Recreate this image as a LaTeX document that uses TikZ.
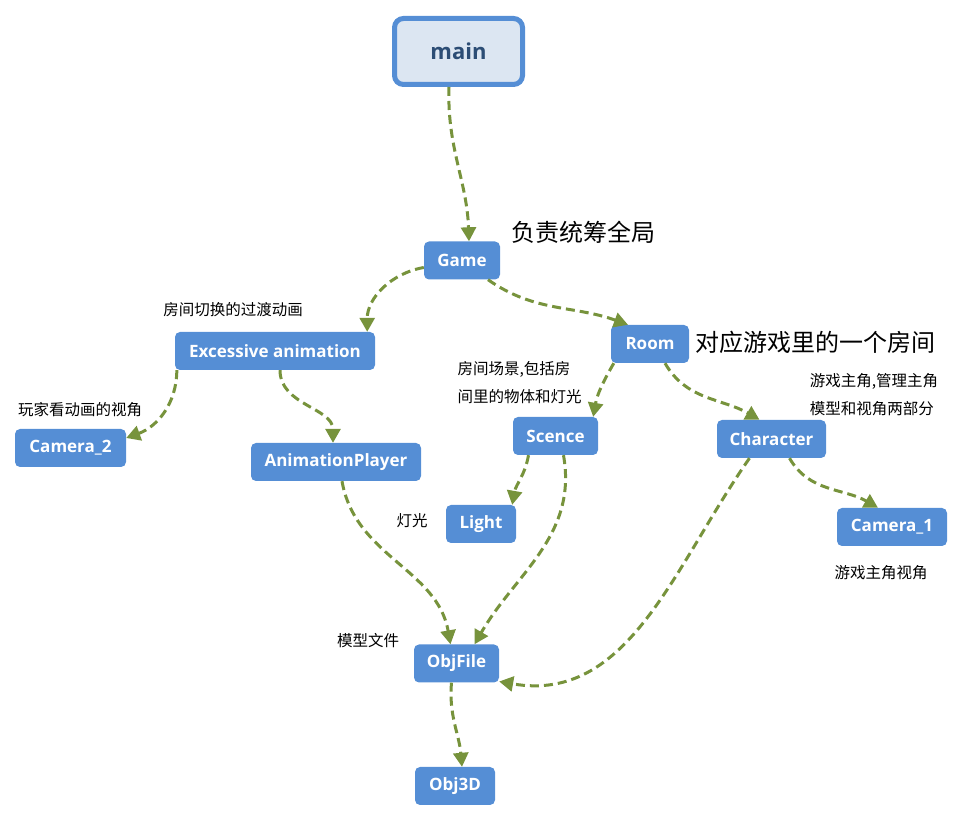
\documentclass[tikz,border=0pt]{standalone}
\usepackage{fontspec}
\setmainfont{Open Sans}
\newfontfamily\cjk{Noto Sans CJK SC}
\usetikzlibrary{arrows.meta}
\definecolor{boxblue}{HTML}{558ED5}
\definecolor{mainfill}{HTML}{DCE6F2}
\definecolor{maintext}{HTML}{2C4D75}
\definecolor{linkgreen}{HTML}{77933C}
\tikzset{
  box/.style={fill=boxblue, rounded corners=5pt, text=white,
    font=\fontsize{17}{20}\selectfont\bfseries, minimum height=38pt, inner sep=0pt},
  mainbox/.style={draw=boxblue, line width=5pt, fill=mainfill, rounded corners=9pt,
    text=maintext, font=\fontsize{22}{26}\selectfont\bfseries,
    minimum width=128pt, minimum height=66pt},
  note/.style={font=\cjk\fontsize{15.5}{28}\selectfont, inner sep=0pt, align=left},
  bignote/.style={font=\cjk\fontsize{24}{28}\selectfont, inner sep=0pt},
  link/.style={draw=linkgreen, line width=3pt, dash pattern=on 9pt off 5pt,
    -{Triangle[length=14pt,width=15pt]}},
}
\begin{document}
\begin{tikzpicture}[x=1pt, y=1pt]
  \useasboundingbox (0,0) rectangle (964,822);
  \node[mainbox] (main) at (458.5,770.5) {main};
  \foreach \nm/\x/\y/\w/\txt in {game/462/561.5/76/Game,
      excessive/275/471/200/Excessive animation, room/650/478/78/Room,
      cam2/70.5/374/111/Camera\_2, player/336/360/170/AnimationPlayer,
      scence/555.5/386/85/Scence, character/771.5/383/109/Character,
      light/481/298/70/Light, cam1/892/295/110/Camera\_1,
      objfile/456.5/158.5/85/ObjFile, obj3d/455/36/80/Obj3D} {
    \node[box, minimum width=\w pt] (\nm) at (\x,\y) {\txt};
  }
  % notes
  \node[bignote] (l-game) at (583,590) {负责统筹全局};
  \node[bignote] (l-room) at (815,480) {对应游戏里的一个房间};
  \node[note] (l-excessive) at (233,512) {房间切换的过渡动画};
  \node[note] (l-cam2) at (80,412) {玩家看动画的视角};
  \node[note] (l-scence) at (519.5,439) {房间场景,包括房\\间里的物体和灯光};
  \node[note] (l-character) at (874,427.5) {游戏主角,管理主角\\模型和视角两部分};
  \node[note] (l-light) at (412,301) {灯光};
  \node[note] (l-cam1) at (881,249) {游戏主角视角};
  \node[note] (l-objfile) at (368,181) {模型文件};
  % links
  \draw[link] ([xshift=-9.5pt]main.south) to[out=268,in=92] ([xshift=7pt]game.north);
  \draw[link] ([yshift=-7pt]game.west) to[out=190,in=90] ([xshift=-8pt]excessive.north east);
  \draw[link] ([xshift=26pt]game.south) to[out=-35,in=160] ([xshift=-22pt]room.north);
  \draw[link] ([xshift=2pt]excessive.south west) to[out=270,in=20] ([yshift=10pt]cam2.east);
  \draw[link] ([xshift=5pt]excessive.south) to[out=270,in=90] ([xshift=-3pt]player.north);
  \draw[link] ([xshift=3pt]room.south west) to[out=240,in=80] ([xshift=-5pt]scence.north east);
  \draw[link] ([xshift=15pt]room.south) to[out=-60,in=150] ([xshift=-12pt]character.north);
  \draw[link] ([xshift=-27pt]scence.south) to[out=260,in=80] ([xshift=-4pt]light.north east);
  \draw[link] ([xshift=8pt]scence.south) to[out=-80,in=60] ([xshift=18pt]objfile.north);
  \draw[link] ([xshift=6pt]player.south) to[out=-80,in=100] ([xshift=-6pt]objfile.north);
  \draw[link] ([xshift=-22pt]character.south) to[out=235,in=-10] ([yshift=-18pt]objfile.east);
  \draw[link] ([xshift=18pt]character.south) to[out=-60,in=150] ([xshift=-14pt]cam1.north);
  \draw[link] ([xshift=-5pt]objfile.south) to[out=265,in=95] ([xshift=7pt]obj3d.north);
\end{tikzpicture}
\end{document}
